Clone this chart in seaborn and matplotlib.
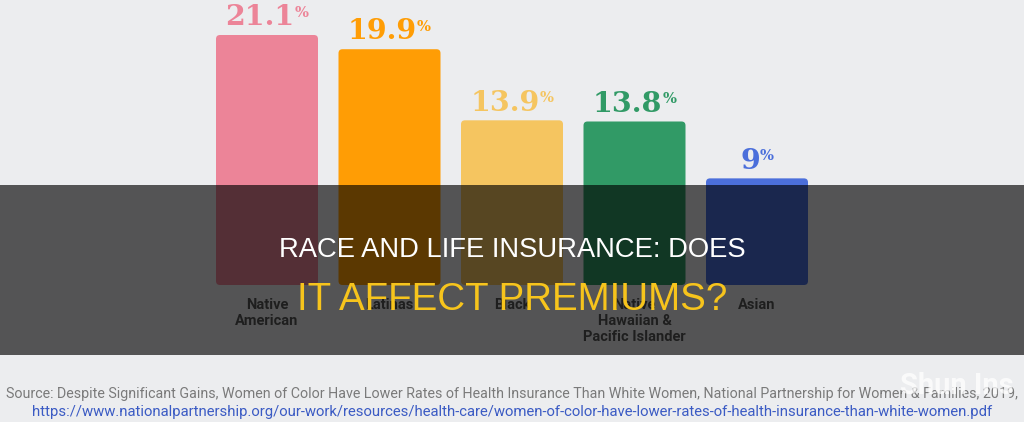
"""
Health insurance gap by race - banner style bar chart
"""

import matplotlib
matplotlib.use('Agg')
import matplotlib.pyplot as plt
from matplotlib.patches import Rectangle, FancyBboxPatch
from matplotlib import font_manager
import seaborn as sns

# data
categories = ['Native\nAmerican', 'Latinas', 'Black', 'Native\nHawaiian &\nPacific Islander', 'Asian']
values = [21.1, 19.9, 13.9, 13.8, 9.0]
value_labels = ['21.1', '19.9', '13.9', '13.8', '9']
bar_colors = ['#EC8498', '#FF9D05', '#F5C560', '#319A66', '#4B6FDB']

title_line1 = 'RACE AND LIFE INSURANCE: DOES'
title_line2 = 'IT AFFECT PREMIUMS?'
source_line1 = ('Source: Despite Significant Gains, Women of Color Have Lower Rates of Health Insurance '
                'Than White Women, National Partnership for Women & Families, 2019,')
source_line2 = ('https://www.nationalpartnership.org/our-work/resources/health-care/'
                'women-of-color-have-lower-rates-of-health-insurance-than-white-women.pdf')
watermark = 'Shun Ins'

sns.set_style('white')
plt.rcParams['font.family'] = ['Roboto', 'DejaVu Sans']

BG = '#ECEDEF'


def has_font(name):
    try:
        font_manager.findfont(name, fallback_to_default=False)
        return True
    except Exception:
        return False


narrow = 'Liberation Sans Narrow' if has_font('Liberation Sans Narrow') else 'Roboto'

fig = plt.figure(figsize=(10.24, 4.22), dpi=100, facecolor=BG)
ax = fig.add_axes([0, 0, 1, 1])
ax.set_facecolor(BG)

# pixel mapping: bar centers 122.5 px apart, first at x=267; zero line 285 px from top
px_x = 122.5
px_y = 250 / 21.1

sns.barplot(x=list(range(len(values))), y=values, hue=list(range(len(values))),
            palette=bar_colors, legend=False, width=102 / px_x, ax=ax,
            saturation=1, native_scale=True)
ax.set_xlim(-267 / px_x, (1024 - 267) / px_x)
ax.set_ylim(-(422 - 285) / px_y, 285 / px_y)
ax.axis('off')

# rounded corners
r = 4 / px_x
for p in list(ax.patches):
    x, y, w, h = p.get_x(), p.get_y(), p.get_width(), p.get_height()
    fb = FancyBboxPatch((x, y), w, h, boxstyle=f'round,pad=0,rounding_size={r}',
                        mutation_aspect=px_x / px_y, facecolor=p.get_facecolor(),
                        edgecolor='none', zorder=2)
    p.remove()
    ax.add_patch(fb)

# value labels with superscript %
for i, (v, lab, c) in enumerate(zip(values, value_labels, bar_colors)):
    t = ax.annotate(lab, xy=(i, v), xytext=(-5, 7), textcoords='offset points',
                    ha='center', va='baseline', fontsize=20.5, fontweight='bold',
                    family='DejaVu Serif', color=c)
    ax.annotate('%', xy=(1, 1), xycoords=t, xytext=(0, -1), textcoords='offset points',
                ha='left', va='top', fontsize=10.5, fontweight='bold',
                family='DejaVu Serif', color=c)

# category labels
for i, cat in enumerate(categories):
    ax.text(i, -13 / px_y, cat, ha='center', va='top', fontsize=10.5,
            fontweight='bold', color='#555555', linespacing=1.2)

# dark band
fig.add_artist(Rectangle((0, (422 - 355) / 422), 1, 170 / 422, transform=fig.transFigure,
                         facecolor='black', alpha=0.645, edgecolor='none', zorder=5))

fig.text(0.5, (422 - 257) / 422, title_line1, ha='center', va='baseline', color='white',
         fontsize=19.7, family=['Liberation Sans', 'DejaVu Sans'], zorder=6)
fig.text(0.5, (422 - 310) / 422, title_line2, ha='center', va='baseline', color='#F7C41C',
         fontsize=27.7, family=['Liberation Sans', 'DejaVu Sans'], zorder=6)

# source
s1 = fig.text(0.5, (422 - 398) / 422, source_line1, ha='center', va='baseline',
              color='#7a7a7a', fontsize=10.5, family=[narrow, 'DejaVu Sans'])
s2 = fig.text(0.5, (422 - 416) / 422, source_line2, ha='center', va='baseline',
              color='#3B5BC4', fontsize=10.5, family=[narrow, 'DejaVu Sans'])

# fit source lines to their widths in the reference
fig.canvas.draw()
rend = fig.canvas.get_renderer()
for s, target in [(s1, 1018), (s2, 967)]:
    w = s.get_window_extent(rend).width
    s.set_fontsize(s.get_fontsize() * target / w)

fig.text(0.99, (422 - 394) / 422, watermark, ha='right', va='baseline', color='white',
         alpha=0.75, fontsize=21, fontweight='bold', zorder=7)

fig.savefig('out.png', dpi=100, facecolor=BG)
plt.close(fig)
